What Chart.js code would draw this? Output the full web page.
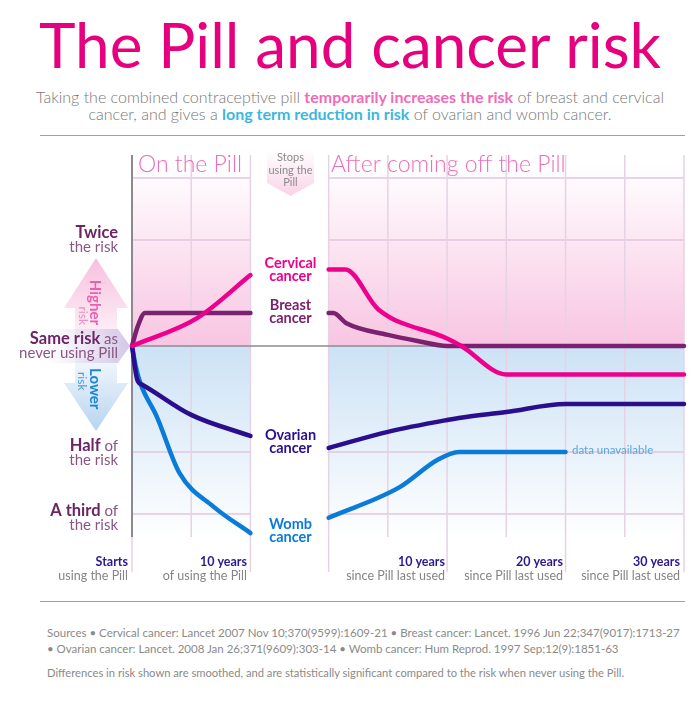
<!DOCTYPE html>
<html>
<head>
<meta charset="utf-8">
<script src="https://cdn.jsdelivr.net/npm/chart.js@4"></script>
<style>
  body { margin: 0; background: #fff; font-family: Lato, "Open Sans", sans-serif; }
  #page { position: relative; width: 700px; height: 702px; overflow: hidden; }
  #title { position: absolute; left: 0; top: 8px; width: 700px; text-align: center;
           color: #e6007e; font-size: 62px; font-weight: 400; line-height: 72px; margin: 0; }
  #sub { position: absolute; left: 0; top: 88px; width: 700px; text-align: center;
         color: #777; font-size: 16px; font-weight: 300; line-height: 17px; margin: 0; }
  #sub .up { color: #f06cb8; font-weight: 700; }
  #sub .down { color: #3cb7e0; font-weight: 700; }
  .rule { position: absolute; left: 40px; width: 645px; height: 0; border-top: 1.5px solid #a0a0a0; }
  #wrap { position: absolute; left: 0; top: 140px; width: 700px; height: 460px; }
  #notes { position: absolute; left: 47px; top: 625px; width: 645px; color: #8a8a8a;
           font-size: 11.5px; line-height: 16px; white-space: nowrap; }
  #notes p { margin: 0; }
</style>
</head>
<body>
<div id="page">
  <h1 id="title">The Pill and cancer risk</h1>
  <p id="sub">Taking the combined contraceptive pill <span class="up">temporarily increases the risk</span> of breast and cervical<br>cancer, and gives a <span class="down">long term reduction in risk</span> of ovarian and womb cancer.</p>
  <div class="rule" style="top:135px"></div>
  <div id="wrap"><canvas id="grafico" width="700" height="460"></canvas></div>
  <div class="rule" style="top:601px"></div>
  <div id="notes">
    <p>Sources • Cervical cancer: Lancet 2007 Nov 10;370(9599):1609-21 • Breast cancer: Lancet. 1996 Jun 22;347(9017):1713-27</p>
    <p>• Ovarian cancer: Lancet. 2008 Jan 26;371(9609):303-14 • Womb cancer: Hum Reprod. 1997 Sep;12(9):1851-63</p>
    <p style="margin-top:8px; font-size:11.2px">Differences in risk shown are smoothed, and are statistically significant compared to the risk when never using the Pill.</p>
  </div>
</div>
<script>
// risk relative to never using the pill (1 = same risk)
// years on the pill, then years since the pill was last used
const cervicalOnYears = [0, 5.5, 10];
const cervicalOnRisk = [1, 1.2, 1.59];
const cervicalOffYears = [0, 1.4, 4.2, 10, 11.2, 15, 30];
const cervicalOffRisk = [1.65, 1.65, 1.27, 1.05, 1.0, 0.83, 0.83];

const breastOnYears = [0, 0.5, 1.1, 10];
const breastOnRisk = [1, 1.14, 1.24, 1.24];
const breastOffYears = [0, 0.4, 1.5, 5, 7.5, 10, 30];
const breastOffRisk = [1.24, 1.24, 1.16, 1.075, 1.033, 1.0, 1.0];

const ovarianOnYears = [0, 0.45, 0.9, 5, 10];
const ovarianOnRisk = [1, 0.8, 0.775, 0.637, 0.555];
const ovarianOffYears = [0, 5, 10, 11, 15, 20, 30];
const ovarianOffRisk = [0.513, 0.57, 0.616, 0.624, 0.649, 0.684, 0.684];

const wombOnYears = [0, 0.3, 0.7, 2.1, 4, 6.9, 10];
const wombOnRisk = [1, 0.88, 0.785, 0.629, 0.436, 0.349, 0.294];
const wombOffYears = [0, 6, 9.2, 11, 20];
const wombOffRisk = [0.325, 0.397, 0.475, 0.5, 0.5];

const riskGrid = [3, 2, 0.5, 1 / 3];
const onTicks = [0, 5, 10];
const offTicks = [0, 5, 10, 15, 20, 25, 30];

const AFTER_START = 16.6; // where "after" year 0 sits on the x axis (gap = stopping)
const COLORS = { cervical: '#ec008c', breast: '#7a226f', ovarian: '#2a0e8e', womb: '#0a7bd8' };

function puntos(years, risk, offset) {
  return years.map((y, i) => ({ x: y + offset, y: risk[i] }));
}

function serie(years, risk, offset, color) {
  return {
    data: puntos(years, risk, offset),
    borderColor: color,
    borderWidth: 4.5,
    borderCapStyle: 'round',
    borderJoinStyle: 'round',
    pointRadius: 0,
    cubicInterpolationMode: 'monotone',
    fill: false,
    clip: false
  };
}

function texto(ctx, str, x, y, font, color, align) {
  ctx.font = font;
  ctx.fillStyle = color;
  ctx.textAlign = align || 'left';
  ctx.textBaseline = 'middle';
  ctx.fillText(str, x, y);
}

// "bold part" + "normal part", right aligned at x
function dosPartes(ctx, a, b, x, y, fa, fb, ca, cb) {
  ctx.font = fb;
  const wb = b ? ctx.measureText(b).width : 0;
  texto(ctx, b, x, y, fb, cb, 'right');
  texto(ctx, a, x - wb, y, fa, ca, 'right');
}

const decor = {
  id: 'decor',
  beforeDatasetsDraw(chart) {
    const ctx = chart.ctx;
    const xs = chart.scales.x, ys = chart.scales.y;
    const X = v => xs.getPixelForValue(v);
    const Y = v => ys.getPixelForValue(v);
    const y1 = Y(1);
    const cols = [[X(0), X(10)], [X(AFTER_START), X(AFTER_START + 30)]];
    ctx.save();
    // pink (higher) and blue (lower) backgrounds
    const gp = ctx.createLinearGradient(0, 25, 0, y1);
    gp.addColorStop(0, '#ffffff');
    gp.addColorStop(1, '#f8c5e2');
    const gb = ctx.createLinearGradient(0, y1, 0, 400);
    gb.addColorStop(0, '#cce2f5');
    gb.addColorStop(1, '#ffffff');
    cols.forEach(([a, b]) => {
      ctx.fillStyle = gp; ctx.fillRect(a, 15, b - a, y1 - 15);
      ctx.fillStyle = gb; ctx.fillRect(a, y1, b - a, 398 - y1);
    });
    // horizontal grid
    ctx.strokeStyle = '#e2c6df';
    ctx.lineWidth = 1.5;
    riskGrid.forEach(r => {
      cols.forEach(([a, b]) => {
        ctx.beginPath(); ctx.moveTo(a, Y(r)); ctx.lineTo(b, Y(r)); ctx.stroke();
      });
    });
    // vertical grid
    const vline = (u, bottom) => {
      ctx.beginPath(); ctx.moveTo(X(u), 15); ctx.lineTo(X(u), bottom); ctx.stroke();
    };
    ctx.strokeStyle = '#e6d2e5';
    onTicks.forEach(t => vline(t, t % 10 === 0 ? 432 : 397));
    offTicks.forEach(t => vline(AFTER_START + t, t % 10 === 0 ? 432 : 397));
    // same risk line
    ctx.strokeStyle = '#8c8c8c';
    ctx.beginPath(); ctx.moveTo(X(0), y1); ctx.lineTo(X(AFTER_START + 30), y1); ctx.stroke();
    // y axis
    ctx.strokeStyle = '#6e6e6e';
    ctx.beginPath(); ctx.moveTo(X(0), 15); ctx.lineTo(X(0), 397); ctx.stroke();
    ctx.restore();
  },
  afterDraw(chart) {
    const ctx = chart.ctx;
    ctx.save();
    const light = '300 23px Lato';
    texto(ctx, 'On the Pill', 138, 25, light, '#ef6cb8');
    texto(ctx, 'After coming off the Pill', 331, 25, light, '#ef6cb8');

    // stops using the pill marker
    let g = ctx.createLinearGradient(0, 10, 0, 56);
    g.addColorStop(0, '#ffffff'); g.addColorStop(1, '#f9d3e7');
    ctx.fillStyle = g;
    ctx.beginPath();
    ctx.moveTo(267, 10); ctx.lineTo(314, 10); ctx.lineTo(314, 43);
    ctx.lineTo(290.5, 56); ctx.lineTo(267, 43); ctx.closePath(); ctx.fill();
    const small = '11px Lato';
    texto(ctx, 'Stops', 290.5, 17, small, '#8a8a8a', 'center');
    texto(ctx, 'using the', 290.5, 30, small, '#8a8a8a', 'center');
    texto(ctx, 'Pill', 290.5, 42, small, '#8a8a8a', 'center');

    // higher arrow
    g = ctx.createLinearGradient(0, 118, 0, 195);
    g.addColorStop(0, '#f7c0dd'); g.addColorStop(1, '#fdf0f7');
    ctx.fillStyle = g;
    ctx.beginPath();
    ctx.moveTo(96, 118); ctx.lineTo(128, 168); ctx.lineTo(117, 168); ctx.lineTo(117, 195);
    ctx.lineTo(75, 195); ctx.lineTo(75, 168); ctx.lineTo(64, 168); ctx.closePath(); ctx.fill();
    // lower arrow
    g = ctx.createLinearGradient(0, 218, 0, 290);
    g.addColorStop(0, '#f3f8fd'); g.addColorStop(1, '#b7d4f0');
    ctx.fillStyle = g;
    ctx.beginPath();
    ctx.moveTo(75, 218); ctx.lineTo(117, 218); ctx.lineTo(117, 243); ctx.lineTo(128, 243);
    ctx.lineTo(96, 291); ctx.lineTo(64, 243); ctx.lineTo(75, 243); ctx.closePath(); ctx.fill();
    // same risk marker
    g = ctx.createLinearGradient(45, 0, 129, 0);
    g.addColorStop(0, 'rgba(220,212,236,0)'); g.addColorStop(1, '#d3c8e6');
    ctx.fillStyle = g;
    ctx.beginPath();
    ctx.moveTo(45, 189); ctx.lineTo(118, 189); ctx.lineTo(130, 206);
    ctx.lineTo(118, 223); ctx.lineTo(45, 223); ctx.closePath(); ctx.fill();

    // rotated arrow texts
    ctx.save();
    ctx.translate(95, 0); ctx.rotate(Math.PI / 2);
    texto(ctx, 'Higher', 185, 0, 'bold 15px Lato', '#ec5fae', 'right');
    texto(ctx, 'risk', 185, 12, '12px Lato', '#f08cc4', 'right');
    texto(ctx, 'Lower', 228, 0, 'bold 15px Lato', '#1b86d6', 'left');
    texto(ctx, 'risk', 232, 13, '12px Lato', '#4a9fe0', 'left');
    ctx.restore();

    // y labels
    const fb = 'bold 16.5px Lato', fn = '15px Lato';
    const dark = '#6c2466', soft = '#8a5686';
    dosPartes(ctx, 'Twice', '', 118, 93, fb, fn, dark, soft);
    dosPartes(ctx, '', 'the risk', 118, 107, fb, fn, dark, soft);
    dosPartes(ctx, 'Same risk', ' as', 118, 199, fb, fn, dark, soft);
    dosPartes(ctx, '', 'never using Pill', 118, 213, fb, fn, dark, soft);
    dosPartes(ctx, 'Half', ' of', 118, 306, fb, fn, dark, soft);
    dosPartes(ctx, '', 'the risk', 118, 320, fb, fn, dark, soft);
    dosPartes(ctx, 'A third', ' of', 118, 371, fb, fn, dark, soft);
    dosPartes(ctx, '', 'the risk', 118, 385, fb, fn, dark, soft);

    // x labels
    const xb = 'bold 12.5px Lato', xn = '12.5px Lato';
    const xlab = [['Starts', 'using the Pill', 128], ['10 years', 'of using the Pill', 247],
                  ['10 years', 'since Pill last used', 445], ['20 years', 'since Pill last used', 563],
                  ['30 years', 'since Pill last used', 680]];
    xlab.forEach(([a, b, x]) => {
      texto(ctx, a, x, 422, xb, '#2b1a8e', 'right');
      texto(ctx, b, x, 436, xn, '#858585', 'right');
    });

    // series labels
    const sl = 'bold 14.5px Lato';
    [['Cervical', 123, COLORS.cervical], ['Breast', 165, COLORS.breast],
     ['Ovarian', 295, COLORS.ovarian], ['Womb', 384, COLORS.womb]].forEach(([n, y, c]) => {
      texto(ctx, n, 290.5, y, sl, c, 'center');
      texto(ctx, 'cancer', 290.5, y + 13, sl, c, 'center');
    });
    texto(ctx, 'data unavailable', 572, 310, '11.5px Lato', '#5aa6e4');
    ctx.restore();
  }
};

const ctx = document.getElementById('grafico').getContext('2d');
const grafico = new Chart(ctx, {
  type: 'line',
  data: {
    datasets: [
      serie(cervicalOnYears, cervicalOnRisk, 0, COLORS.cervical),
      serie(cervicalOffYears, cervicalOffRisk, AFTER_START, COLORS.cervical),
      serie(breastOnYears, breastOnRisk, 0, COLORS.breast),
      serie(breastOffYears, breastOffRisk, AFTER_START, COLORS.breast),
      serie(ovarianOnYears, ovarianOnRisk, 0, COLORS.ovarian),
      serie(ovarianOffYears, ovarianOffRisk, AFTER_START, COLORS.ovarian),
      serie(wombOnYears, wombOnRisk, 0, COLORS.womb),
      serie(wombOffYears, wombOffRisk, AFTER_START, COLORS.womb)
    ]
  },
  options: {
    responsive: false,
    animation: false,
    devicePixelRatio: 1,
    layout: { padding: { top: 10, bottom: 60, left: 132, right: 16 } },
    plugins: { legend: { display: false }, tooltip: { enabled: false } },
    scales: {
      x: { type: 'linear', min: 0, max: AFTER_START + 30, display: false },
      y: { type: 'logarithmic', min: 0.281, max: 3.603, display: false }
    }
  },
  plugins: [decor]
});
</script>
</body>
</html>
